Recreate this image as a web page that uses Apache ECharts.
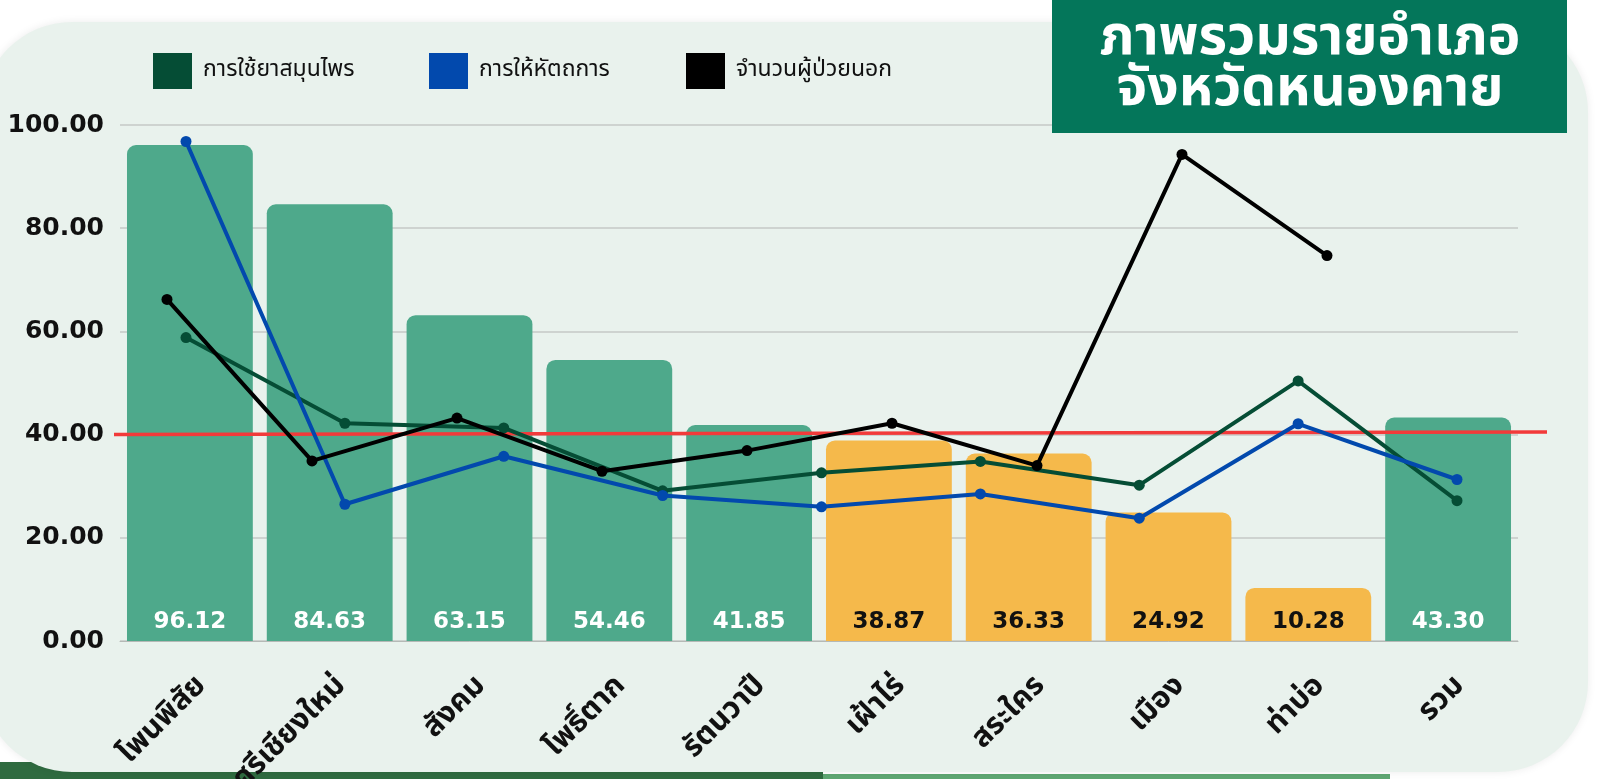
<!DOCTYPE html>
<html>
<head>
<meta charset="utf-8">
<script src="https://cdn.jsdelivr.net/npm/echarts@6/dist/echarts.min.js"></script>
<style>
  html, body { margin: 0; padding: 0; background: #fff; }
  #main { width: 1603px; height: 779px; }
</style>
</head>
<body>
<div id="main"></div>
<script>
  const districts = ['โพนพิสัย', 'ศรีเชียงใหม่', 'สังคม', 'โพธิ์ตาก', 'รัตนวาปี', 'เฝ้าไร่', 'สระใคร', 'เมือง', 'ท่าบ่อ', 'รวม']
  const totalScore = [96.12, 84.63, 63.15, 54.46, 41.85, 38.87, 36.33, 24.92, 10.28, 43.30]
  const lineCats = districts.slice(0, 9)
  const herbUse = [58.8, 42.2, 41.3, 29.1, 32.6, 34.8, 30.2, 50.4, 27.2]
  const massage = [96.8, 26.5, 35.8, 28.2, 26.0, 28.5, 23.8, 42.1, 31.3]
  const outPatients = [66.2, 34.9, 43.2, 32.9, 36.9, 42.2, 34.0, 94.3, 74.7]
  const targetLine = [40.0, 40.5]
  const yTicks = [0, 100, 20]

  const thai = "'Noto Sans Thai', 'Noto Sans', sans-serif"
  const num = "'DejaVu Sans', sans-serif"
  const green = '#4ea98b'
  const yellow = '#f5b94b'

  const chart = echarts.init(document.getElementById('main'))

  const gridTop = 125
  const gridBottom = 138
  const mkGrid = (left, right) => ({ left, right, top: gridTop, bottom: gridBottom, outerBoundsMode: 'none' })
  const hiddenY = (gi) => ({ type: 'value', gridIndex: gi, min: yTicks[0], max: yTicks[1], show: false })

  chart.setOption({
    animation: false,
    backgroundColor: '#ffffff',
    graphic: [
      { type: 'rect', z: -10, shape: { x: 0, y: 762, width: 823, height: 17 }, style: { fill: '#2f6b40' } },
      { type: 'rect', z: -10, shape: { x: 823, y: 774, width: 567, height: 5 }, style: { fill: '#5ea772' } },
      {
        type: 'rect', z: -9,
        shape: { x: -18, y: 22, width: 1606, height: 750, r: 90 },
        style: { fill: '#e9f2ed', shadowColor: 'rgba(0,0,0,0.08)', shadowBlur: 8 }
      },
      { type: 'rect', z: 20, shape: { x: 1052, y: 0, width: 515, height: 133 }, style: { fill: '#04765a' } },
      {
        type: 'text', z: 21, x: 1310, y: 68,
        style: {
          text: 'ภาพรวมรายอำเภอ\nจังหวัดหนองคาย',
          fill: '#ffffff', font: "bold 55px " + thai,
          align: 'center', verticalAlign: 'middle', lineHeight: 51
        }
      }
    ],
    legend: [
      { left: 148, top: 48, data: ['การใช้ยาสมุนไพร'] },
      { left: 424, top: 48, data: ['การให้หัตถการ'] },
      { left: 681, top: 48, data: ['จำนวนผู้ป่วยนอก'] }
    ].map(l => Object.assign(l, {
      icon: 'rect', itemWidth: 39, itemHeight: 36, itemGap: 10,
      textStyle: { fontSize: 23, color: '#111', fontFamily: thai, padding: [0, 0, 0, 6] }
    })),
    grid: [
      mkGrid(120, 85),
      mkGrid(186, 146),
      mkGrid(167, 276),
      mkGrid(114, 56)
    ],
    xAxis: [
      {
        type: 'category', gridIndex: 0, data: districts,
        axisTick: { show: false },
        axisLine: { lineStyle: { color: '#b5b9b6' } },
        axisLabel: {
          rotate: 45, margin: 54, fontSize: 30, fontWeight: 'bold', color: '#111', fontFamily: thai,
          padding: [0, -18, 0, 0]
        }
      },
      { type: 'category', gridIndex: 1, data: lineCats, boundaryGap: false, show: false },
      { type: 'category', gridIndex: 2, data: lineCats, boundaryGap: false, show: false },
      { type: 'value', gridIndex: 3, min: 0, max: 1, show: false }
    ],
    yAxis: [
      {
        type: 'value', gridIndex: 0, min: yTicks[0], max: yTicks[1], interval: yTicks[2],
        axisLine: { show: false }, axisTick: { show: false },
        splitLine: { lineStyle: { color: '#c5c9c6', width: 1.5 } },
        axisLabel: {
          margin: 16, fontSize: 25, fontWeight: 'bold', color: '#111', fontFamily: num,
          formatter: v => v.toFixed(2)
        }
      },
      hiddenY(1), hiddenY(2), hiddenY(3)
    ],
    series: [
      {
        type: 'bar', xAxisIndex: 0, yAxisIndex: 0,
        barCategoryGap: '10%',
        data: totalScore.map((v, i) => ({
          value: v,
          itemStyle: { color: (i >= 5 && i <= 8) ? yellow : green },
          label: { color: (i >= 5 && i <= 8) ? '#111' : '#ffffff' }
        })),
        itemStyle: { borderRadius: [9, 9, 0, 0] },
        label: {
          show: true, position: 'insideBottom', distance: 7,
          fontSize: 23, fontWeight: 'bold', fontFamily: num,
          formatter: p => p.value.toFixed(2)
        }
      },
      {
        type: 'line', xAxisIndex: 3, yAxisIndex: 3, data: [], z: 3, silent: true,
        markLine: {
          symbol: 'none', silent: true, label: { show: false },
          lineStyle: { color: '#f23a3a', width: 3.5, type: 'solid' },
          data: [[{ coord: [0, targetLine[0]] }, { coord: [1, targetLine[1]] }]]
        }
      },
      {
        name: 'การใช้ยาสมุนไพร', type: 'line', xAxisIndex: 1, yAxisIndex: 1, z: 5,
        data: herbUse, color: '#054d35', symbol: 'circle', symbolSize: 11,
        lineStyle: { width: 4 }
      },
      {
        name: 'การให้หัตถการ', type: 'line', xAxisIndex: 1, yAxisIndex: 1, z: 6,
        data: massage, color: '#0249ad', symbol: 'circle', symbolSize: 11,
        lineStyle: { width: 4 }
      },
      {
        name: 'จำนวนผู้ป่วยนอก', type: 'line', xAxisIndex: 2, yAxisIndex: 2, z: 7,
        data: outPatients, color: '#000000', symbol: 'circle', symbolSize: 11,
        lineStyle: { width: 4 }
      }
    ]
  })
</script>
</body>
</html>
